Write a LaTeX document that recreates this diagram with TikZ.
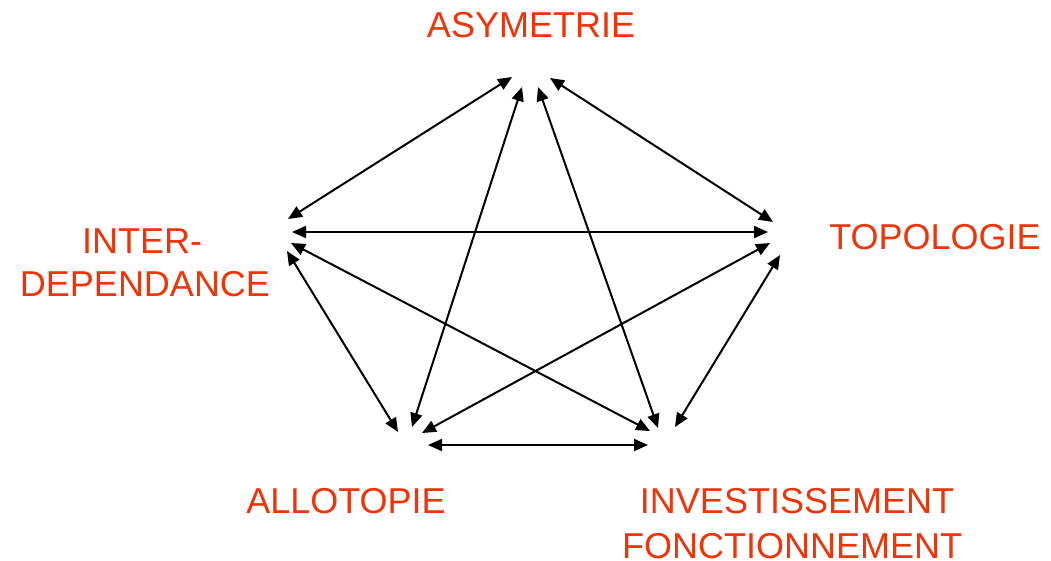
\documentclass[tikz,border=0pt]{standalone}
\usepackage{fontspec}
\setmainfont{Liberation Sans}
\usetikzlibrary{arrows.meta}
\definecolor{lblred}{RGB}{238,52,8}
\begin{document}
\begin{tikzpicture}[x=1pt,y=-1pt,
  lbl/.style={text=lblred, font=\fontsize{36}{40}\selectfont, anchor=base, inner sep=0pt},
  link/.style={line width=2pt, {Triangle[length=14pt,width=12pt]}-{Triangle[length=14pt,width=12pt]}}]
\useasboundingbox (0,0) rectangle (1051,560);
% labels
\node[lbl] (asy) at (531,37) {ASYMETRIE};
\node[lbl] (top) at (935,249) {TOPOLOGIE};
\node[lbl] (inter1) at (142,253) {INTER-};
\node[lbl] (inter2) at (145,296) {DEPENDANCE};
\node[lbl] (allo) at (346,513) {ALLOTOPIE};
\node[lbl] (inv1) at (797,513) {INVESTISSEMENT};
\node[lbl] (inv2) at (792,558) {FONCTIONNEMENT};
% endpoints
\coordinate (aI) at (512,77);
\coordinate (aL) at (522,87);
\coordinate (aV) at (538,87);
\coordinate (aT) at (550,78);
\coordinate (iA) at (288,219);
\coordinate (iT) at (292,232);
\coordinate (iV) at (291,243);
\coordinate (iL) at (287,251);
\coordinate (tA) at (773,222);
\coordinate (tI) at (768,232);
\coordinate (tL) at (770,243);
\coordinate (tV) at (780,255);
\coordinate (lI) at (398,432);
\coordinate (lA) at (412,427);
\coordinate (lT) at (422,433);
\coordinate (lV) at (428,445);
\coordinate (vI) at (650,431);
\coordinate (vA) at (658,428);
\coordinate (vT) at (675,427);
\coordinate (vL) at (648,445);
% connectors
\draw[link] (aI) -- (iA);
\draw[link] (aL) -- (lA);
\draw[link] (aV) -- (vA);
\draw[link] (aT) -- (tA);
\draw[link] (iT) -- (tI);
\draw[link] (iV) -- (vI);
\draw[link] (iL) -- (lI);
\draw[link] (tL) -- (lT);
\draw[link] (tV) -- (vT);
\draw[link] (lV) -- (vL);
\end{tikzpicture}
\end{document}
